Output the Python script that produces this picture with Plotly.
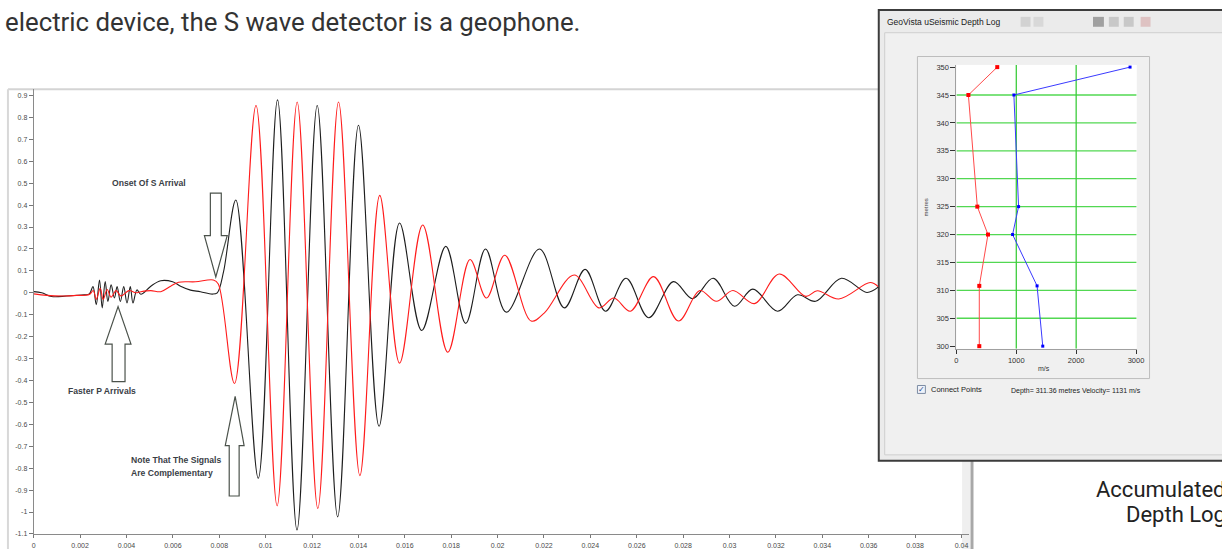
import plotly.graph_objects as go

W, H = 1222, 552

# ---------------- main waveform (time in ms, amplitude) ----------------
black_t_ms = [0, 0.342, 0.770, 1.412, 2.053, 2.396,
              2.554, 2.695, 2.836, 2.952, 3.080, 3.196, 3.337, 3.478, 3.594, 3.735,
              3.880, 4.021, 4.163, 4.278, 4.449, 4.620,
              5.048, 5.476, 5.989, 6.332, 6.759, 7.187, 7.701, 7.914, 8.184,
              8.714, 9.681, 10.511, 11.350, 12.222, 13.104, 14.002, 14.888, 15.773,
              16.727, 17.767, 18.623, 19.478, 20.377, 21.806, 22.875, 23.773, 24.655,
              25.540, 26.511, 27.581, 28.406, 29.292, 30.216, 31.003, 32.073, 32.928,
              33.711, 34.824, 35.923, 36.406]
black_v = [0.005, 0.0, -0.017, -0.015, -0.010, -0.005,
           0.028, -0.054, 0.0585, -0.069, 0.051, -0.040, 0.036, -0.024, 0.028, -0.040,
           0.028, -0.047, 0.028, -0.047, 0.013, -0.007,
           0.030, 0.055, 0.050, 0.030, 0.012, 0.005, -0.006, 0.0, 0.096,
           0.423, -0.846, 0.880, -1.082, 0.854, -1.022, 0.764, -0.609, 0.318,
           -0.172, 0.2115, -0.1395, 0.1995, -0.0885, 0.1995, -0.069, 0.1065, -0.084,
           0.066, -0.114, 0.051, -0.027, 0.066, -0.0615, 0.0165, -0.084, -0.009,
           -0.039, 0.066, 0.0015, 0.0255]

red_t_ms = [0, 0.556, 1.198, 1.840, 2.396,
            2.567, 2.695, 2.866, 2.995, 3.166, 3.337, 3.551, 3.765, 4.107, 4.406,
            4.620, 5.048, 5.476, 5.904, 6.246, 6.973, 7.743, 7.957,
            8.655, 9.583, 10.494, 11.358, 12.248, 13.142, 14.062, 14.918, 15.773,
            16.770, 17.852, 18.810, 19.521, 20.308, 21.446, 22.019, 23.302, 24.372,
            25.013, 25.724, 26.725, 27.795, 28.719, 29.433, 30.147, 31.071, 32.141,
            33.283, 33.784, 34.708, 36.064, 36.406]
red_v = [-0.005, -0.012, -0.015, -0.012, -0.008,
         0.010, -0.030, 0.020, -0.030, 0.015, -0.020, 0.010, -0.015, 0.010, 0.0,
         0.005, 0.010, 0.005, 0.030, 0.048, 0.050, 0.058, 0.040,
         -0.414, 0.854, -0.972, 0.870, -0.984, 0.870, -0.834, 0.444, -0.321,
         0.309, -0.271, 0.1515, -0.024, 0.171, -0.129, -0.0915, 0.081, -0.069,
         -0.024, -0.084, 0.0735, -0.129, 0.0105, -0.039, 0.0105, -0.0495, 0.0855,
         -0.0165, 0.009, -0.0285, 0.0465, 0.028]

x_tick_vals = [round(0.002 * i, 3) for i in range(21)]
x_tick_text = [f"{v:g}" for v in x_tick_vals]
y_tick_vals = [round(0.9 - 0.1 * i, 1) for i in range(21)]
y_tick_text = [f"{v:g}" for v in y_tick_vals]

# ---------------- depth log inset ----------------
depth_m = [350, 345, 325, 320, 310.8, 300]
vel_red = [682, 200, 349, 527, 382, 382]
vel_blue = [2900, 960, 1038, 938, 1347, 1442]
depth_ticks = [300, 305, 310, 315, 320, 325, 330, 335, 340, 345, 350]
vel_ticks = [0, 1000, 2000, 3000]
grid_depths = [305, 310, 315, 320, 325, 330, 335, 340, 345]
grid_vels = [1000, 2000]


def px(x):
    return x / W


def py(y):
    return 1 - y / H


fig = go.Figure()
fig.add_trace(go.Scatter(x=[t / 1000 for t in black_t_ms], y=black_v, mode="lines",
                         line=dict(color="#1e1e1e", width=1.1, shape="spline", smoothing=1),
                         hoverinfo="skip", xaxis="x", yaxis="y"))
fig.add_trace(go.Scatter(x=[t / 1000 for t in red_t_ms], y=red_v, mode="lines",
                         line=dict(color="#ff1c1c", width=1.1, shape="spline", smoothing=1),
                         hoverinfo="skip", xaxis="x", yaxis="y"))
fig.add_trace(go.Scatter(x=vel_red, y=depth_m, mode="lines+markers", cliponaxis=False,
                         line=dict(color="#ff4a4a", width=1),
                         marker=dict(color="#ff0000", size=4, symbol="square"),
                         hoverinfo="skip", xaxis="x2", yaxis="y2"))
fig.add_trace(go.Scatter(x=vel_blue, y=depth_m, mode="lines+markers", cliponaxis=False,
                         line=dict(color="#3a3aff", width=1),
                         marker=dict(color="#0000ff", size=3, symbol="square"),
                         hoverinfo="skip", xaxis="x2", yaxis="y2"))

tickfont = dict(family="Liberation Sans", size=7, color="#4a4a4a")

x_top = 0.04 * (975 - 32) / (967.4 - 32)
y_top = 0.9 + (94.3 - 88) / 221.0

fig.update_layout(
    width=W, height=H, margin=dict(l=0, r=0, t=0, b=0),
    paper_bgcolor="white", plot_bgcolor="white", showlegend=False,
    xaxis=dict(domain=[px(32), px(975)], range=[0, x_top], anchor="y",
               tickmode="array", tickvals=x_tick_vals, ticktext=x_tick_text,
               ticks="outside", ticklen=3, tickcolor="#777", showline=True,
               linecolor="#8a8a8a", linewidth=1, showgrid=False, zeroline=False,
               ticklabelstandoff=2, tickfont=tickfont),
    yaxis=dict(domain=[py(536.8), py(88)], range=[-1.1, y_top], anchor="x",
               tickmode="array", tickvals=y_tick_vals, ticktext=y_tick_text,
               ticks="outside", ticklen=4, tickcolor="#777", showline=True,
               linecolor="#8a8a8a", linewidth=1, showgrid=False, zeroline=False,
               tickfont=tickfont),
    xaxis2=dict(domain=[px(962.3), px(1144)], range=[0, 3010], anchor="y2",
                tickmode="array", tickvals=vel_ticks, ticks="outside", ticklen=4,
                tickcolor="#333", showline=True, linecolor="#a0a0a0", linewidth=1,
                showgrid=False, zeroline=False,
                tickfont=dict(family="Liberation Sans", size=7.5, color="#333")),
    yaxis2=dict(domain=[py(350), py(63.5)], range=[299.52, 350.39], anchor="x2",
                tickmode="array", tickvals=depth_ticks, ticks="outside", ticklen=5,
                tickcolor="#333", showline=True, linecolor="#a0a0a0", linewidth=1,
                showgrid=False, zeroline=False,
                tickfont=dict(family="Liberation Sans", size=7.5, color="#333")),
)

shapes = []


def prect(x0, y0, x1, y1, fill, line="rgba(0,0,0,0)", lw=0, layer="below"):
    shapes.append(dict(type="rect", xref="paper", yref="paper", x0=px(x0), x1=px(x1),
                       y0=py(y1), y1=py(y0), fillcolor=fill,
                       line=dict(color=line, width=lw), layer=layer))


def pline(x0, y0, x1, y1, color, lw):
    shapes.append(dict(type="line", xref="paper", yref="paper", x0=px(x0), x1=px(x1),
                       y0=py(y0), y1=py(y1), line=dict(color=color, width=lw), layer="below"))


# frame of the waveform chart
pline(6, 88, 884, 88, "#d4d4d4", 2)
pline(6, 88, 6, 552, "#d8d8d8", 2)
prect(968, 463, 976, 552, "#efefef")
pline(978, 463, 978, 552, "#a8a8a8", 3)

# window of the depth log
prect(884, 8, 1240, 463, "#ebebeb", "#3c3c3c", 2)
prect(890, 31, 1232, 457, "#f0f0f0", "#cfcfcf", 1)
prect(923, 55, 1157, 380, "#f0f0f0", "#bdbdbd", 1)
prect(923, 387, 931, 395, "#eef3fb", "#7d8ca3", 1)
for (a, b, c) in [(1027, 1037, "#d2d2d2"), (1040, 1050, "#d8d8d8"), (1100, 1111, "#a0a0a0"),
                  (1116, 1126, "#c8c8c8"), (1131, 1141, "#c8c8c8"), (1148, 1158, "#dec2c2")]:
    prect(a, 15, b, 25, c)

# inset plot area and green grid
shapes.append(dict(type="rect", xref="x2", yref="y2", x0=0, x1=3010, y0=299.52, y1=350.39,
                   fillcolor="white", line=dict(width=0), layer="below"))
for d in grid_depths:
    shapes.append(dict(type="line", xref="x2", yref="y2", x0=0, x1=3010, y0=d, y1=d,
                       line=dict(color="#52d852", width=1.3), layer="below"))
for v in grid_vels:
    shapes.append(dict(type="line", xref="x2", yref="y2", x0=v, x1=v, y0=299.52, y1=350.39,
                       line=dict(color="#3ccc3c", width=1.3), layer="below"))


# hollow block arrows (ms, amplitude)
def arrow(pts):
    path = "M " + " L ".join(f"{t / 1000:.6f},{v:.4f}" for t, v in pts) + " Z"
    shapes.append(dict(type="path", xref="x", yref="y", path=path,
                       line=dict(color="#4b524b", width=1.2), fillcolor="rgba(0,0,0,0)",
                       layer="above"))


arrow([(7.615, 0.4545), (8.086, 0.4545), (8.086, 0.261), (8.342, 0.261), (7.85, 0.072),
       (7.358, 0.261), (7.615, 0.261)])
arrow([(3.380, -0.405), (3.936, -0.405), (3.936, -0.234), (4.193, -0.234), (3.636, -0.063),
       (3.080, -0.234), (3.380, -0.234)])
arrow([(8.428, -0.927), (8.856, -0.927), (8.856, -0.6976), (9.070, -0.6976), (8.684, -0.4725),
       (8.257, -0.6976), (8.428, -0.6976)])

fig.update_layout(shapes=shapes)


def ann(text, x, y, size, color, family="Liberation Sans", xanchor="left", angle=0):
    fig.add_annotation(text=text, xref="paper", yref="paper", x=px(x), y=py(y),
                       xanchor=xanchor, yanchor="middle", showarrow=False, textangle=angle,
                       font=dict(family=family, size=size, color=color), borderpad=0)


ann("electric device, the S wave detector is a geophone.", 2, 20, 25.8, "#333333", "Roboto")
ann("Accumulated", 1102, 492, 22, "#222222", "Roboto")
ann("Depth Log", 1132, 517, 22, "#222222", "Roboto")

ann("<b>Onset Of S Arrival</b>", 148.5, 183, 8.6, "#3a4046", xanchor="center")
ann("<b>Faster P Arrivals</b>", 100.5, 393, 8.6, "#3a4046", xanchor="center")
ann("<b>Note That The Signals</b>", 129, 462, 8.6, "#3a4046")
ann("<b>Are Complementary</b>", 129, 475, 8.6, "#3a4046")

ann("GeoVista uSeismic Depth Log", 891, 20, 8.5, "#1a1a1a")
ann("metres", 932, 207, 6, "#444444", xanchor="center", angle=-90)
ann("m/s", 1051, 370, 7, "#333333", xanchor="center")
ann("\u2713", 927, 391, 8, "#2b4a8a", family="DejaVu Sans", xanchor="center")
ann("Connect Points", 936, 391, 7.5, "#222222")
ann("Depth= 311.36 metres Velocity= 1131 m/s", 1016, 393, 7, "#222222")

fig.write_html("out.html", config={"displayModeBar": False},
               post_script="document.body.style.margin='0';")
